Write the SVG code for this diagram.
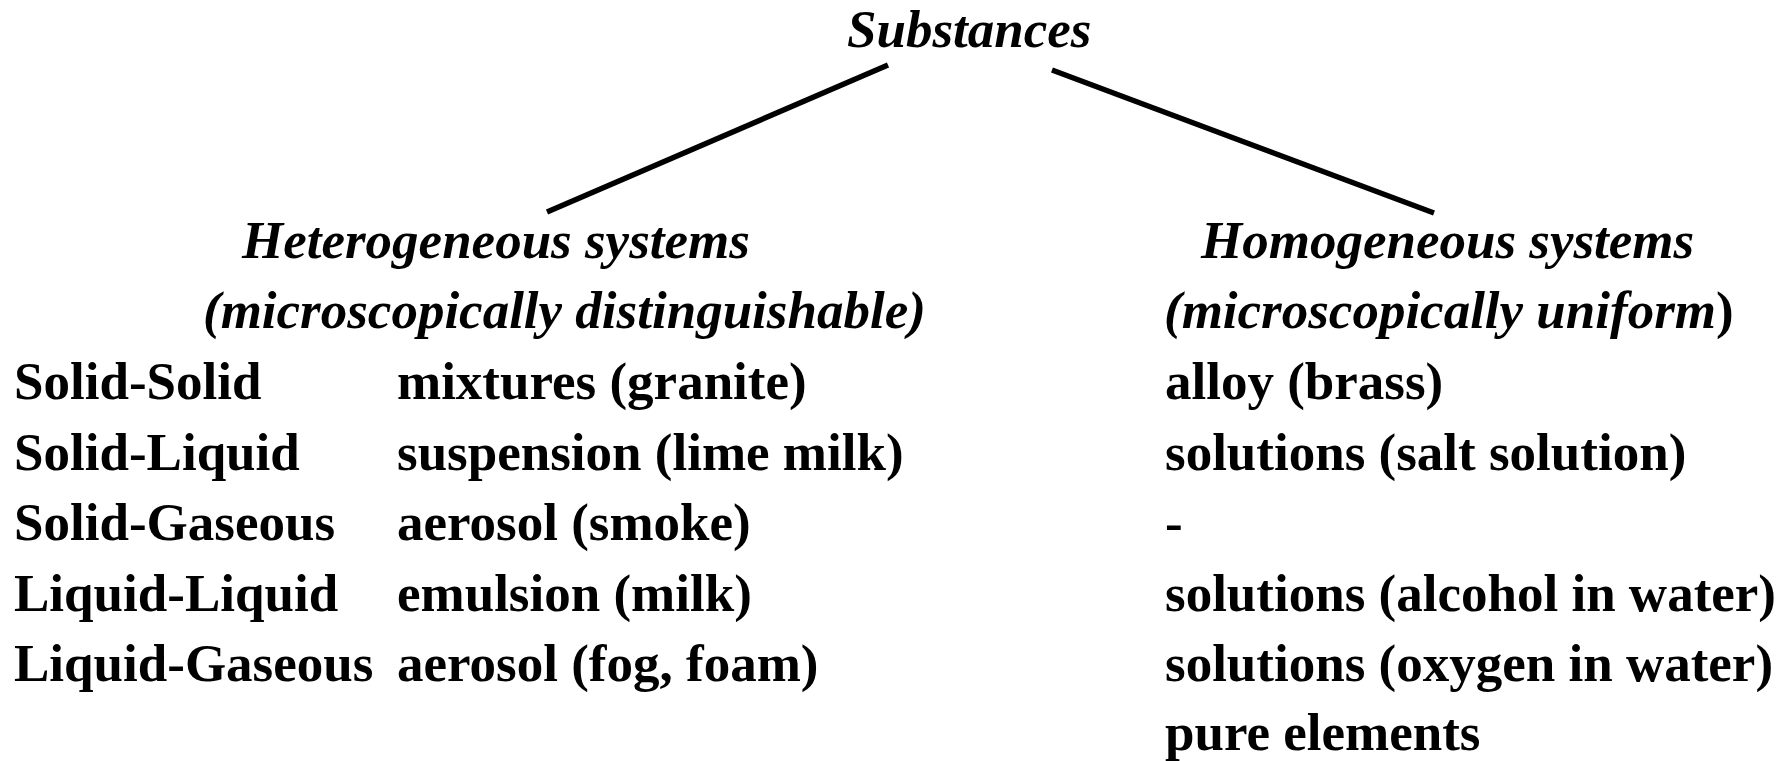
<svg xmlns="http://www.w3.org/2000/svg" width="1790" height="761" viewBox="0 0 1790 761">
<style>
text{font-family:"Liberation Serif","Times New Roman",serif;font-size:53px;font-weight:bold;fill:#000}
.h{font-style:italic}
.u{font-style:normal}
.c{stroke:#000;stroke-width:5.5;fill:none}
</style>
<rect width="1790" height="761" fill="#fff"/>
<g id="connectors">
<line class="c" x1="888" y1="65" x2="547" y2="212"/>
<line class="c" x1="1052" y1="70" x2="1434" y2="213"/>
</g>
<g id="substances"><text class="h" x="847" y="47">Substances</text></g>
<g id="heterogeneous">
<text class="h" x="242" y="258">Heterogeneous systems</text>
<text class="h" x="203" y="328">(microscopically distinguishable)</text>
</g>
<g id="homogeneous">
<text class="h" x="1201" y="258">Homogeneous systems</text>
<text class="h" x="1164" y="328">(microscopically uniform<tspan class="u">)</tspan></text>
</g>
<g id="table">
<text x="14" y="399">Solid-Solid</text>
<text x="14" y="470">Solid-Liquid</text>
<text x="14" y="540">Solid-Gaseous</text>
<text x="14" y="611">Liquid-Liquid</text>
<text x="14" y="681">Liquid-Gaseous</text>
<text x="397" y="399">mixtures (granite)</text>
<text x="397" y="470">suspension (lime milk)</text>
<text x="397" y="540">aerosol (smoke)</text>
<text x="397" y="611">emulsion (milk)</text>
<text x="397" y="681">aerosol (fog, foam)</text>
<text x="1165" y="399">alloy (brass)</text>
<text x="1165" y="470">solutions (salt solution)</text>
<text x="1165" y="540">-</text>
<text x="1165" y="611">solutions (alcohol in water)</text>
<text x="1165" y="681">solutions (oxygen in water)</text>
<text x="1165" y="750">pure elements</text>
</g>
</svg>
